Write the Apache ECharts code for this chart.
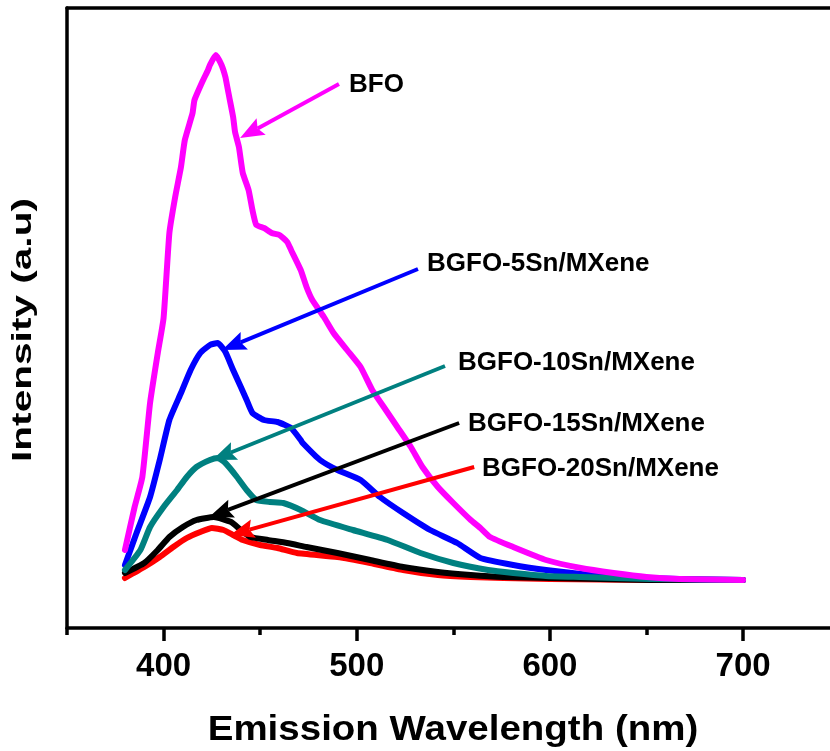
<!DOCTYPE html>
<html>
<head>
<meta charset="utf-8">
<script src="https://cdn.jsdelivr.net/npm/echarts@6/dist/echarts.min.js"></script>
<style>
  html, body { margin: 0; padding: 0; background: #fff; }
  #chart { width: 830px; height: 751px; }
</style>
</head>
<body>
<div id="chart"></div>
<script>
// Photoluminescence emission spectra (intensity in arbitrary units)
const bfoNm  = [380,385,389,393,397,400,403,406,409,411,415,416,420,423,424,427,430,432,433,434,436,437,439,441,444,446,448,452,456,460,464,466,471,474,477,483,488,495,502,508,514,521,528,534,542,550,559,564,569,581,598,616,633,650,667,700];
const bfoInt = [78,121,151,225,275,310,395,431,461,488,515,528,546,558,563,573,563,551,541,531,511,496,481,455,438,418,403,400,395,393,386,378,358,341,328,311,295,278,261,238,221,201,181,161,141,125,108,100,91,81,68,60,55,51,49,48];

const sn5Nm  = [380,386,393,398,403,409,414,419,424,428,432,436,440,443,446,452,459,466,471,472,481,490,502,512,524,538,552,564,581,598,616,633,667,700];
const sn5Int = [63,95,131,168,208,235,258,275,283,285,276,258,241,228,215,208,206,200,188,185,168,158,148,131,115,98,85,70,63,58,54,51,49,48];

const sn10Nm  = [380,388,393,400,407,412,417,424,428,432,438,443,448,455,462,471,481,498,516,533,550,568,581,598,616,652,700];
const sn10Int = [58,78,101,121,138,151,161,168,170,165,151,138,128,126,125,118,108,98,88,75,65,58,55,52,51,49,48];

const sn15Nm  = [380,390,397,403,410,417,426,435,440,445,454,464,474,490,507,524,542,559,576,600,652,700];
const sn15Int = [55,65,78,91,101,108,111,106,98,91,88,85,81,75,68,61,56,53,51,50,48,48];

const sn20Nm  = [380,390,398,405,412,419,425,431,436,441,450,459,469,490,507,524,542,559,576,600,652,700];
const sn20Int = [50,61,71,81,90,96,100,98,93,88,83,80,75,71,65,58,53,51,50,49,48,48];

const seriesNames = ['BFO', 'BGFO-5Sn/MXene', 'BGFO-10Sn/MXene', 'BGFO-15Sn/MXene', 'BGFO-20Sn/MXene'];
const seriesColors = ['#FF00FF', '#0000FF', '#008080', '#000000', '#FF0000'];

// Callout arrows: label end and arrow tip on the curve, both as (nm, intensity)
const arrowTail = [[490.8, 544], [531.7, 359], [545.7, 262], [553.0, 205], [560.8, 161]];
const arrowTip  = [[439.6, 490], [430.3, 278], [425.2, 168], [423.6, 111], [434.5, 93]];

const majorTicks = [400, 500, 600, 700];
const minorTicks = [350, 450, 550, 650];

const FONT = 'Arial, "Liberation Sans", Helvetica, sans-serif';

function pairs(xs, ys) { return xs.map((x, i) => [x, ys[i]]); }

const spectra = [
  pairs(bfoNm, bfoInt),
  pairs(sn5Nm, sn5Int),
  pairs(sn10Nm, sn10Int),
  pairs(sn15Nm, sn15Int),
  pairs(sn20Nm, sn20Int)
];

// drawing order: red, black, blue, teal, magenta (magenta ends on top)
const drawOrder = [4, 3, 1, 2, 0];

const lineSeries = drawOrder.map(i => ({
  name: seriesNames[i],
  type: 'line',
  data: spectra[i],
  showSymbol: false,
  smooth: 0.15,
  lineStyle: { color: seriesColors[i], width: 6, join: 'round', cap: 'round' },
  itemStyle: { color: seriesColors[i] },
  animation: false,
  silent: true
}));

const chart = echarts.init(document.getElementById('chart'), null, { renderer: 'canvas' });

const xBase = {
  type: 'value',
  min: 350,
  max: 745,
  interval: 50,
  splitLine: { show: false }
};

chart.setOption({
  backgroundColor: '#ffffff',
  animation: false,
  grid: { left: 67, top: 8, right: 0, bottom: 123, containLabel: false, outerBoundsMode: 'none' },
  xAxis: [
    Object.assign({}, xBase, {
      position: 'bottom',
      axisLine: { show: true, onZero: false, lineStyle: { color: '#000', width: 3.5 } },
      axisTick: { show: true, customValues: majorTicks, length: 13, lineStyle: { color: '#000', width: 3.5 } },
      axisLabel: { show: true, customValues: majorTicks, margin: 22, fontFamily: FONT, fontWeight: 'bold', fontSize: 33, color: '#000' }
    }),
    Object.assign({}, xBase, {
      position: 'bottom',
      offset: 0,
      axisLine: { show: false },
      axisTick: { show: true, customValues: minorTicks, length: 7, lineStyle: { color: '#000', width: 3.5 } },
      axisLabel: { show: false }
    }),
    Object.assign({}, xBase, {
      position: 'top',
      axisLine: { show: true, onZero: false, lineStyle: { color: '#000', width: 3.5 } },
      axisTick: { show: false },
      axisLabel: { show: false }
    })
  ],
  yAxis: {
    type: 'value',
    min: 0,
    max: 620,
    axisLine: { show: true, onZero: false, lineStyle: { color: '#000', width: 3.5 } },
    axisTick: { show: false },
    axisLabel: { show: false },
    splitLine: { show: false }
  },
  series: lineSeries
});

// Axis titles, curve labels and callout arrows
const graphics = [
  {
    type: 'text', x: 453, y: 730, scaleX: 1.1, silent: true,
    style: { text: 'Emission Wavelength (nm)', font: 'bold 35px ' + FONT, fill: '#000', align: 'center', verticalAlign: 'middle' }
  },
  {
    type: 'text', x: 23, y: 330, rotation: Math.PI / 2, scaleX: 1.45, silent: true,
    style: { text: 'Intensity (a.u)', font: 'bold 28px ' + FONT, fill: '#000', align: 'center', verticalAlign: 'middle' }
  }
];

const labelPos = [[349, 85], [427, 264], [458, 363], [468, 424], [482, 469]];
seriesNames.forEach((name, i) => {
  graphics.push({
    type: 'text', x: labelPos[i][0], y: labelPos[i][1], silent: true,
    style: { text: name, font: 'bold 26px ' + FONT, fill: '#000', align: 'left', verticalAlign: 'middle' }
  });
});

const headLen = 24, headHalf = 9.5, notch = 4;
arrowTail.forEach((t, i) => {
  const p0 = chart.convertToPixel({ gridIndex: 0 }, t);
  const p1 = chart.convertToPixel({ gridIndex: 0 }, arrowTip[i]);
  const dx = p1[0] - p0[0], dy = p1[1] - p0[1];
  const len = Math.sqrt(dx * dx + dy * dy);
  const ux = dx / len, uy = dy / len;
  const nx = -uy, ny = ux;
  const bx = p1[0] - ux * headLen, by = p1[1] - uy * headLen;
  graphics.push({
    type: 'line', silent: true, z: 10,
    shape: { x1: p0[0], y1: p0[1], x2: bx + ux * notch, y2: by + uy * notch },
    style: { stroke: seriesColors[i], lineWidth: 4 }
  });
  graphics.push({
    type: 'polygon', silent: true, z: 10,
    shape: { points: [
      [p1[0], p1[1]],
      [bx + nx * headHalf, by + ny * headHalf],
      [bx + ux * notch, by + uy * notch],
      [bx - nx * headHalf, by - ny * headHalf]
    ] },
    style: { fill: seriesColors[i] }
  });
});

chart.setOption({ graphic: graphics });
</script>
</body>
</html>
